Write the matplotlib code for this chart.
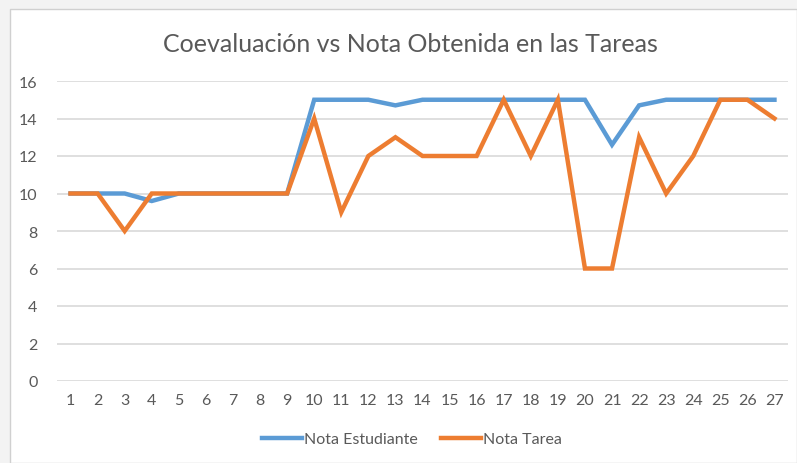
import matplotlib
matplotlib.use("Agg")
import matplotlib.pyplot as plt
from matplotlib.patches import Rectangle

# data
tareas = list(range(1, 28))
nota_estudiante = [10, 10, 10, 9.6, 10, 10, 10, 10, 10, 15, 15, 15, 14.7, 15, 15, 15,
                   15, 15, 15, 15, 12.6, 14.7, 15, 15, 15, 15, 15]
nota_tarea = [10, 10, 8, 10, 10, 10, 10, 10, 10, 14, 9, 12, 13, 12, 12, 12,
              15, 12, 15, 6, 6, 13, 10, 12, 15, 15, 14]
y_ticks = [0, 2, 4, 6, 8, 10, 12, 14, 16]

BLUE = "#5B9BD5"
ORANGE = "#ED7D31"
TEXT = "#595959"
GRID = "#D9D9D9"

plt.rcParams["font.family"] = ["Lato", "DejaVu Sans"]

W, H = 797, 464
fig = plt.figure(figsize=(W / 100, H / 100), dpi=100)
fig.patch.set_facecolor("#F3F3F3")
# white chart frame, kept behind the axes
frame = Rectangle((10 / W, 0), 1 - 10 / W, 1 - 10 / H, transform=fig.transFigure,
                  facecolor="white", edgecolor="#D0D0D0", linewidth=1.0, zorder=-10)
fig.patches.append(frame)

ax = fig.add_axes([57 / W, (H - 382) / H, (788 - 57) / W, 300 / H])
ax.set_facecolor("none")
ax.plot(tareas, nota_estudiante, color=BLUE, linewidth=3.2, label="Nota Estudiante",
        solid_joinstyle="miter", zorder=3)
ax.plot(tareas, nota_tarea, color=ORANGE, linewidth=3.2, label="Nota Tarea",
        solid_joinstyle="miter", zorder=4)

ax.set_xlim(0.5, 27.5)
ax.set_ylim(0, 16)
ax.set_xticks(tareas)
ax.set_yticks(y_ticks)
ax.tick_params(axis="both", length=0, labelsize=11.5, colors=TEXT)
ax.tick_params(axis="x", pad=9)
ax.tick_params(axis="y", pad=14)
ax.grid(axis="y", color=GRID, linewidth=1.2)
ax.set_axisbelow(True)
for s in ax.spines.values():
    s.set_visible(False)

fig.text(0.515, 1 - 44 / H, "Coevaluación vs Nota Obtenida en las Tareas", ha="center",
         va="center", fontsize=18, color=TEXT)

fig.legend(loc="center", bbox_to_anchor=(0.517, 1 - 440 / H), ncol=2, frameon=False,
           fontsize=11.5, labelcolor=TEXT, handlelength=2.5, handletextpad=0.1,
           columnspacing=1.5)

fig.savefig("out.png", dpi=100, facecolor=fig.get_facecolor())
